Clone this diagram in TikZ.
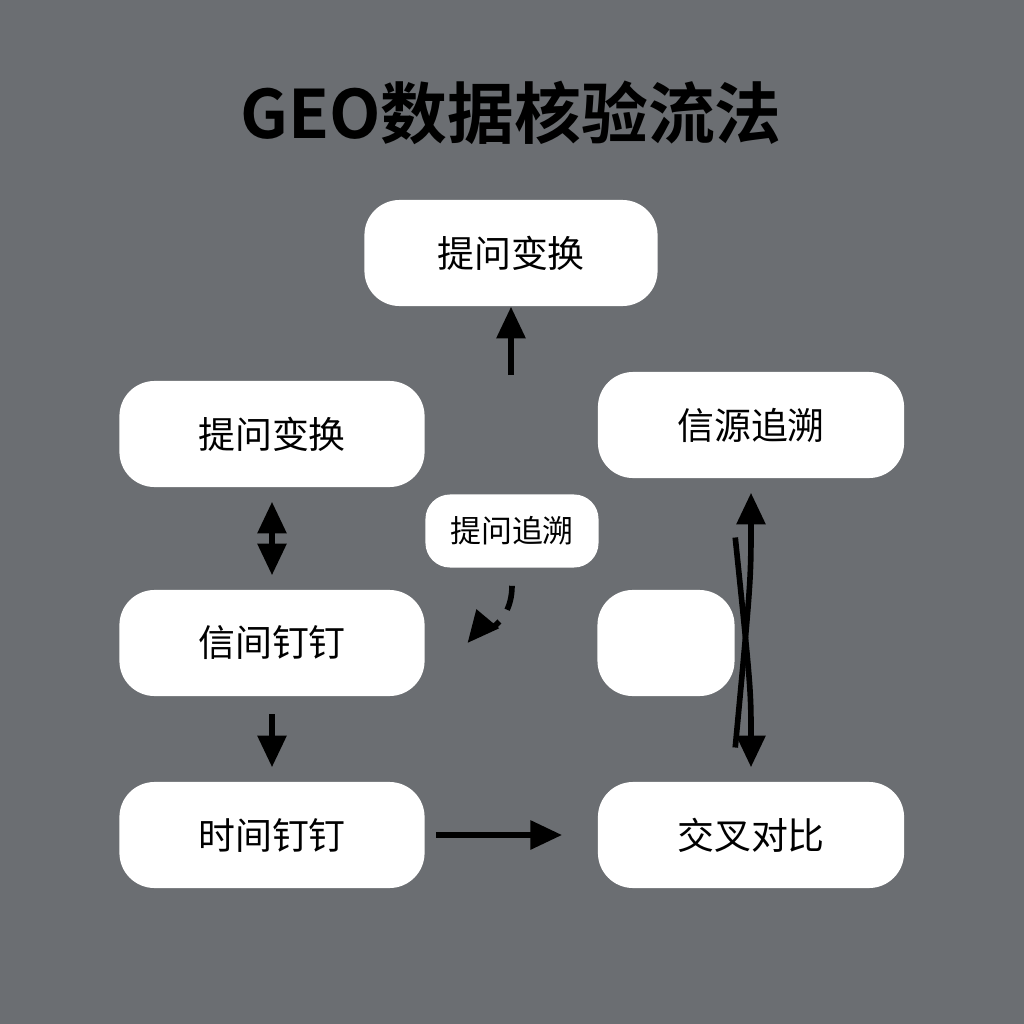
\documentclass[tikz,border=0pt]{standalone}
\usepackage{fontspec}
\setmainfont{Noto Sans CJK SC}
\newfontfamily\cjkb{Noto Sans CJK SC Bold}
\usetikzlibrary{arrows.meta}
\definecolor{bg}{HTML}{6B6E72}
\begin{document}
\begin{tikzpicture}[x=0.01cm,y=-0.01cm,
  box/.style={fill=white,rounded corners=10pt,draw=none,inner sep=0pt,font=\fontsize{10.5pt}{12pt}\selectfont},
  arr/.style={line width=1.6pt,-{Triangle[length=9pt,width=8pt]}}]
\fill[bg] (0,0) rectangle (1024,1024);
\node[font=\cjkb\fontsize{19pt}{22pt}\selectfont] (title) at (511,113) {GEO数据核验流法};
\node[box,minimum width=2.93cm,minimum height=1.06cm] (top) at (511,253) {提问变换};
\node[box,minimum width=3.05cm,minimum height=1.06cm] (l1) at (272,434) {提问变换};
\node[box,minimum width=3.06cm,minimum height=1.06cm] (r1) at (751,425) {信源追溯};
\node[box,minimum width=1.73cm,minimum height=0.73cm,rounded corners=7pt,font=\fontsize{8.8pt}{10pt}\selectfont] (sm) at (512,531) {提问追溯};
\node[box,minimum width=3.05cm,minimum height=1.06cm] (l2) at (272,643) {信间钉钉};
\node[box,minimum width=1.37cm,minimum height=1.06cm] (sq) at (666,643) {};
\node[box,minimum width=3.05cm,minimum height=1.06cm] (l3) at (272,835) {时间钉钉};
\node[box,minimum width=3.06cm,minimum height=1.06cm] (r3) at (751,835) {交叉对比};
\coordinate (a0) at (511,375);
\draw[arr] (a0) -- (top.south);
\draw[arr,{Triangle[length=9pt,width=8pt]}-{Triangle[length=9pt,width=8pt]}] ([yshift=-4]l1.south) -- ([yshift=4]l2.north);
\draw[arr] ([yshift=-5]l2.south) -- ([yshift=4]l3.north);
\draw[arr] ([xshift=3]l3.east) -- ([xshift=-10]r3.west);
\draw[arr] ([yshift=-45]sq.north east) .. controls (751,580) .. ([yshift=-4]r1.south);
\draw[arr] ([yshift=30]sq.east) .. controls (751,690) .. ([yshift=4]r3.north);
\draw[arr,dashed,dash pattern=on 7pt off 4pt] ([yshift=-5]sm.south) .. controls (512,630) and (470,640) .. ([xshift=12]l2.east);
\end{tikzpicture}
\end{document}
